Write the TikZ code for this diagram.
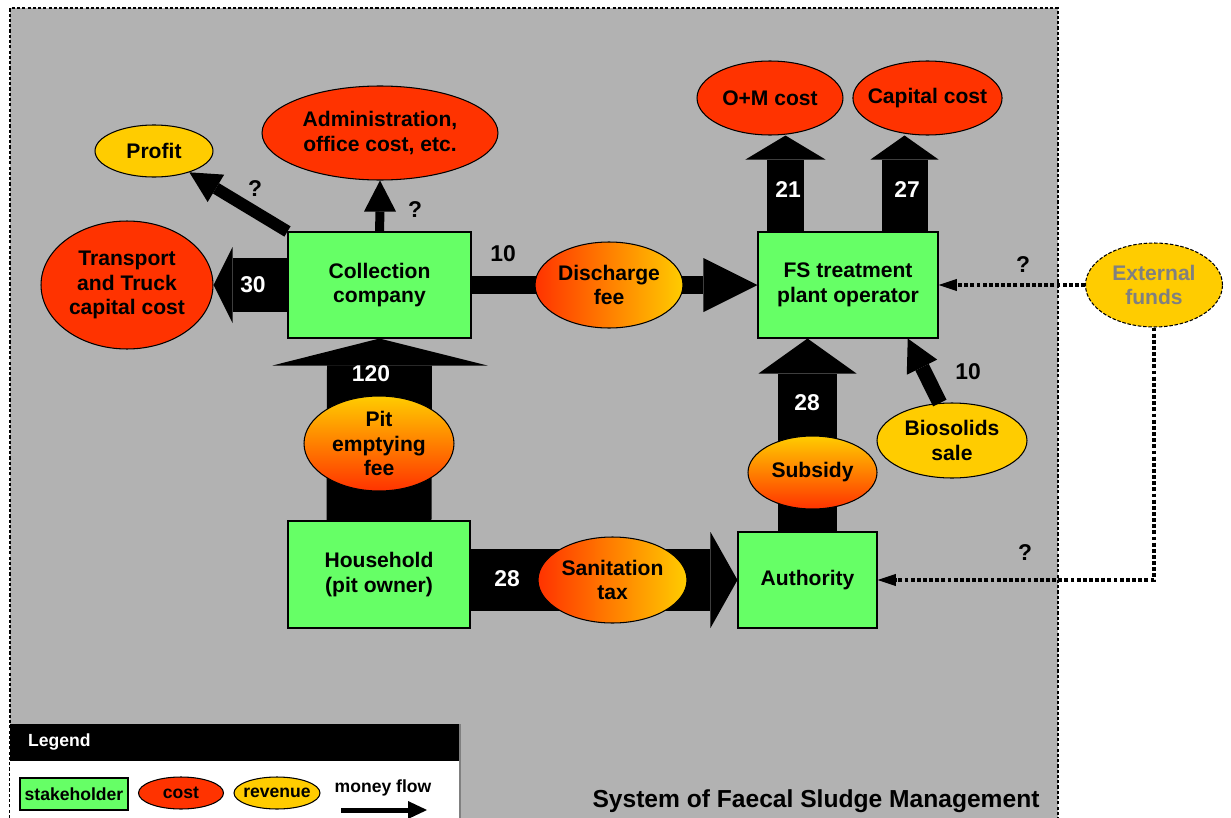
\documentclass[tikz,border=0pt]{standalone}
\usepackage{fontspec}
\setmainfont{Liberation Sans}
\usetikzlibrary{shapes.geometric, arrows.meta, calc}
\definecolor{stakegreen}{RGB}{102,255,102}
\definecolor{costred}{RGB}{255,51,0}
\definecolor{revyellow}{RGB}{255,204,0}
\definecolor{bggray}{RGB}{178,178,178}
\definecolor{extgray}{RGB}{128,128,128}

\tikzset{
  lbl/.style={font=\bfseries\fontsize{12}{14}\selectfont, align=center},
  smalllbl/.style={font=\bfseries\fontsize{10}{12}\selectfont},
  stakeholder/.style={lbl, draw=black, line width=0.6pt, fill=stakegreen, inner sep=0pt},
  oval/.style={lbl, ellipse, draw=black, line width=0.6pt, inner sep=-4pt},
  cost/.style={oval, fill=costred},
  revenue/.style={oval, fill=revyellow},
  feeh/.style={oval, left color=costred, right color=revyellow},
  feev/.style={oval, top color=revyellow, bottom color=costred},
  flow/.style={line width=#1},
  amount/.style={font=\bfseries\fontsize{13}{15}\selectfont},
  frameline/.style={line width=0.6pt, dash pattern=on 1.8pt off 1.2pt},
  extlink/.style={line width=2.2pt, dash pattern=on 2.2pt off 1.3pt,
    -{Triangle[length=10.5pt, width=7pt, line width=0pt]}},
}

\begin{document}
\begin{tikzpicture}[x=0.02cm, y=-0.02cm]
  \useasboundingbox (0,0) rectangle (1231,818);
  \fill[bggray] (10,8) rectangle (1058,818);
  \draw[frameline] (10,818) -- (10,8) -- (1058,8) -- (1058,818);

  % stakeholders
  \node[stakeholder, minimum width=3.66cm, minimum height=2.12cm] (cc) at (379.5,285) {Collection\\company};
  \node[stakeholder, minimum width=3.6cm, minimum height=2.12cm] (fs) at (848,285) {FS treatment\\plant operator};
  \node[stakeholder, minimum width=3.64cm, minimum height=2.14cm] (hh) at (379,574.5) {Household\\(pit owner)};
  \node[stakeholder, minimum width=2.78cm, minimum height=1.92cm] (au) at (807.5,580) {Authority};

  % costs and revenues
  \node[cost, minimum width=3.44cm, minimum height=2.56cm] (tr) at (127,285) {Transport\\and Truck\\capital cost};
  \node[revenue, minimum width=2.36cm, minimum height=1.04cm] (pf) at (154,151) {Profit};
  \node[cost, minimum width=4.72cm, minimum height=1.88cm] (ad) at (380,133) {Administration,\\office cost, etc.};
  \node[cost, minimum width=2.92cm, minimum height=1.48cm] (om) at (770,98) {O+M cost};
  \node[cost, minimum width=2.98cm, minimum height=1.48cm] (cp) at (927.5,98) {Capital cost};
  \node[revenue, minimum width=3cm, minimum height=1.5cm] (bs) at (952,440.5) {Biosolids\\sale};
  \node[revenue, dash pattern=on 2pt off 1pt, text=extgray, minimum width=2.74cm, minimum height=1.68cm] (ef) at (1154,285) {External\\funds};

  % money flows
  \draw[flow=2.1cm] (hh.north) -- ($(cc.south)+(0,27)$);
  \fill (cc.south) -- ++(-107,27) -- ++(215,0) -- cycle;
  \draw[flow=1.08cm] (cc.west) -- ($(tr.east)+(19,0)$);
  \fill (tr.east) -- ++(19,-38) -- ++(0,76) -- cycle;
  \draw[flow=0.36cm] (cc.east) -- ($(fs.west)+(-54,0)$);
  \fill (fs.west) -- ++(-54,-27) -- ++(0,54) -- cycle;
  \draw[flow=1.26cm] (hh.east |- au.west) -- ($(au.west)+(-27,0)$);
  \fill (au.west) -- ++(-27,-48) -- ++(0,96) -- cycle;
  \draw[flow=1.18cm] (au.north) -- ($(au.north |- fs.south)+(0,35)$);
  \fill (au.north |- fs.south) -- ++(-49,35) -- ++(98,0) -- cycle;
  \coordinate (o21) at ($(fs.north west)+(28,0)$);
  \coordinate (o27) at ($(fs.north east)+(-34,0)$);
  \draw[flow=0.74cm] (o21) -- ($(o21 |- om.south)+(0,24)$);
  \fill (o21 |- om.south) -- ++(-40,24) -- ++(80,0) -- cycle;
  \draw[flow=0.92cm] (o27) -- ($(o27 |- cp.south)+(0,24)$);
  \fill (o27 |- cp.south) -- ++(-34,24) -- ++(68,0) -- cycle;
  \draw[flow=0.18cm] (cc.north) -- ($(ad.south)+(0,31)$);
  \fill (ad.south) -- ++(-16,31) -- ++(32,0) -- cycle;
  \draw[flow=0.24cm, -{Triangle[length=0.62cm, width=0.64cm, line width=0pt]}] (cc.north west) -- (pf);
  \draw[flow=0.3cm, -{Triangle[length=0.64cm, width=0.68cm, line width=0pt]}] (bs.108) -- ($(fs.south)!0.66!(fs.south east)$);
  \draw[extlink] (ef.west) -- (fs.east);
  \draw[extlink] (ef.south) |- (au.east);

  % fees on the flows
  \node[feev, minimum width=3cm, minimum height=1.9cm] (pit) at (379,443.5) {Pit\\emptying\\fee};
  \node[feeh, minimum width=2.96cm, minimum height=1.72cm] (dis) at (609,285) {Discharge\\fee};
  \node[feeh, minimum width=2.98cm, minimum height=1.72cm] (san) at (612.5,580) {Sanitation\\tax};
  \node[feev, minimum width=2.58cm, minimum height=1.46cm] (sub) at (812.5,472.5) {Subsidy};

  % amounts
  \node[amount, text=white] (a120) at (371,374) {120};
  \node[amount, text=white] (a30) at (253,285) {30};
  \node[amount, text=white] (a28s) at (507,579) {28};
  \node[amount, text=white] (a28a) at (807,403) {28};
  \node[amount, text=white] (a21) at (788,190) {21};
  \node[amount, text=white] (a27) at (907,190) {27};
  \node[amount] (a10d) at (503,254) {10};
  \node[amount] (a10b) at (968,372) {10};
  \node[amount] (q1) at (255,189) {?};
  \node[amount] (q2) at (415,210) {?};
  \node[amount] (q3) at (1023,265) {?};
  \node[amount] (q4) at (1025,553) {?};

  \node[font=\bfseries\fontsize{14}{16}\selectfont] (title) at (816,801) {System of Faecal Sludge Management};

  % legend
  \fill[black] (10,724) rectangle (460,761);
  \fill[white] (10,761) rectangle (460,818);
  \draw[gray, line width=0.6pt] (460,724) -- (460,818);
  \node[smalllbl, text=white, anchor=west] (legend) at (22,742) {Legend};
  \node[stakeholder, smalllbl, minimum width=2.16cm, minimum height=0.64cm] (lgs) at (74,794) {stakeholder};
  \node[cost, smalllbl, minimum width=1.7cm, minimum height=0.64cm] (lgc) at (181,793) {cost};
  \node[revenue, smalllbl, minimum width=1.72cm, minimum height=0.64cm] (lgr) at (277,793) {revenue};
  \node[smalllbl] (lgm) at (383,788) {money flow};
  \coordinate (lga) at (341,810);
  \coordinate (lgb) at (427,810);
  \draw[flow=0.1cm] (lga) -- ($(lgb)+(-19,0)$);
  \fill (lgb) -- ++(-19,-9) -- ++(0,18) -- cycle;
\end{tikzpicture}
\end{document}
